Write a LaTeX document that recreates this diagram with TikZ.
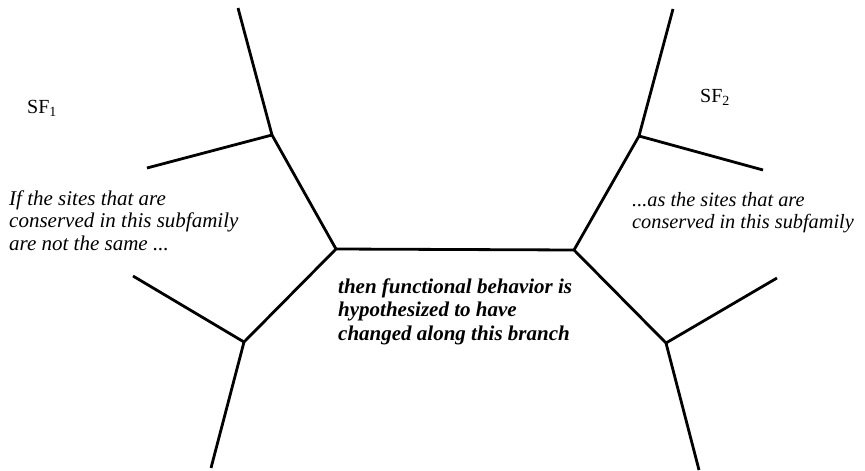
\documentclass[tikz,border=0pt]{standalone}
\usepackage{fontspec}
\setmainfont{Liberation Serif}
\begin{document}
\begin{tikzpicture}[x=1pt,y=-1pt,
  branch/.style={line width=2.8pt,line join=miter},
  lbl/.style={inner sep=0pt,anchor=base west},
  % multi-line notes are placed by the baseline of their last line
  note/.style={inner sep=0pt,anchor=base west,align=left,font=\itshape},
]
\useasboundingbox (0,0) rectangle (865,471);
% internal nodes of the tree
\coordinate (L)  at (336,249);
\coordinate (R)  at (574,250);
\coordinate (LU) at (272,135);
\coordinate (LD) at (244,342);
\coordinate (RU) at (639,136);
\coordinate (RD) at (666,343);
% leaves
\coordinate (LUa) at (238,8);
\coordinate (LUb) at (147,168);
\coordinate (LDa) at (133,276);
\coordinate (LDb) at (211,468);
\coordinate (RUa) at (673,9);
\coordinate (RUb) at (763,170);
\coordinate (RDa) at (777,278);
\coordinate (RDb) at (699,470);
% branches
\draw[branch] (L) -- (R);
\draw[branch] (L) -- (LU);
\draw[branch] (L) -- (LD);
\draw[branch] (R) -- (RU);
\draw[branch] (R) -- (RD);
\draw[branch] (LU) -- (LUa);
\draw[branch] (LU) -- (LUb);
\draw[branch] (LD) -- (LDa);
\draw[branch] (LD) -- (LDb);
\draw[branch] (RU) -- (RUa);
\draw[branch] (RU) -- (RUb);
\draw[branch] (RD) -- (RDa);
\draw[branch] (RD) -- (RDb);
% subfamily labels
\node[lbl,font=\fontsize{20}{22}\selectfont] (sf1) at (27,113) {SF\textsubscript{1}};
\node[lbl,font=\fontsize{20}{22}\selectfont] (sf2) at (700,102) {SF\textsubscript{2}};
% annotations
\node[note,font=\itshape\fontsize{21}{22.5}\selectfont] (left) at (9,250)
  {If the sites that are\\conserved in this subfamily\\are not the same ...};
\node[note,font=\itshape\fontsize{20.3}{21.5}\selectfont] (right) at (632,228)
  {...as the sites that are\\conserved in this subfamily};
\node[note,font=\bfseries\itshape\fontsize{21}{23.5}\selectfont] (mid) at (338,340)
  {then functional behavior is\\hypothesized to have\\changed along this branch};
\end{tikzpicture}
\end{document}
